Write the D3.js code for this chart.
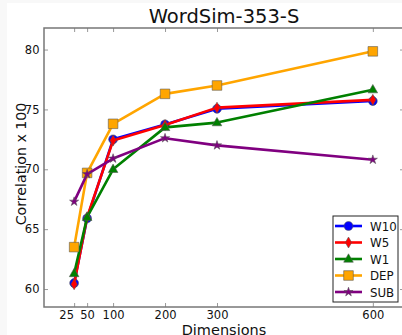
<!DOCTYPE html>
<html>
<head>
<meta charset="utf-8">
<script src="https://cdn.jsdelivr.net/npm/d3@7"></script>
<style>
  html, body { margin: 0; padding: 0; background: #f8f8f8; }
  svg { display: block; }
  text { font-family: "DejaVu Sans", sans-serif; fill: #111; }
</style>
</head>
<body>
<svg id="chart" width="402" height="335"></svg>
<script>
// Embedding dimensions on the x axis
const dims = [25, 50, 100, 200, 300, 600];
const xTicks = [25, 50, 100, 200, 300, 600];
const yTicks = [60, 65, 70, 75, 80];

// Correlation x 100 for each context type
const w10 = [60.5, 65.9, 72.5, 73.75, 75.05, 75.7];
const w5  = [60.4, 66.0, 72.4, 73.7, 75.15, 75.8];
const w1  = [61.3, 66.0, 70.0, 73.5, 73.9, 76.65];
const dep = [63.5, 69.7, 73.8, 76.3, 77.0, 79.85];
const sub = [67.3, 69.6, 70.9, 72.6, 72.0, 70.8];

const seriesNames = ["W10", "W5", "W1", "DEP", "SUB"];
const seriesValues = [w10, w5, w1, dep, sub];
const seriesColors = ["#0000ff", "#ff0000", "#008000", "#ffa500", "#800080"];
const seriesSymbols = ["circle", "diamond", "triangle", "square", "star"];

const svg = d3.select("#chart");
svg.append("rect").attr("x", 7).attr("y", 3).attr("width", 395).attr("height", 332).attr("fill", "#fff");

const m = { left: 44, top: 28, right: 404, bottom: 307 };
const x = d3.scaleLinear().domain([-33, 660]).range([m.left, m.right]);
const y = d3.scaleLinear().domain([58.5, 81.8]).range([m.bottom, m.top]);

// Inward ticks on all four sides
const tickLen = 4;
const g = svg.append("g");
const axB = d3.axisBottom(x).tickValues(xTicks).tickSizeInner(-tickLen).tickSizeOuter(0).tickPadding(4);
const axT = d3.axisTop(x).tickValues(xTicks).tickSizeInner(-tickLen).tickSizeOuter(0).tickFormat("");
const axL = d3.axisLeft(y).tickValues(yTicks).tickSizeInner(-tickLen).tickSizeOuter(0).tickPadding(4.5);
const axR = d3.axisRight(y).tickValues(yTicks).tickSizeInner(-tickLen).tickSizeOuter(0).tickFormat("");

function styleAxis(sel) {
  sel.select(".domain").remove();
  sel.selectAll(".tick line").attr("stroke", "#999").attr("stroke-width", 1);
  sel.selectAll(".tick text").attr("font-size", 11.5).attr("fill", "#111")
    .style("font-family", "DejaVu Sans, sans-serif");
}
const bottomAxis = g.append("g").attr("transform", `translate(0,${m.bottom})`).call(axB).call(styleAxis);
// the 25 label sits a little left of its tick so it clears the 50 label
bottomAxis.selectAll(".tick text").filter(d => d === 25).attr("dx", -8);
g.append("g").attr("transform", `translate(0,${m.top})`).call(axT).call(styleAxis);
g.append("g").attr("transform", `translate(${m.left},0)`).call(axL).call(styleAxis);
g.append("g").attr("transform", `translate(${m.right},0)`).call(axR).call(styleAxis);

// Frame
svg.append("rect").attr("x", m.left).attr("y", m.top)
  .attr("width", m.right - m.left).attr("height", m.bottom - m.top)
  .attr("fill", "none").attr("stroke", "#777").attr("stroke-width", 1.5);

function markerPath(sym) {
  switch (sym) {
    case "diamond": return "M0,-5.5L3.2,0L0,5.5L-3.2,0Z";
    case "triangle": return "M0,-5.2L4.8,3.2L-4.8,3.2Z";
    case "square": return "M-4.8,-4.8H4.8V4.8H-4.8Z";
    case "star": return d3.symbol(d3.symbolStar, 26)();
    default: return d3.symbol(d3.symbolCircle, 62)();
  }
}

const line = d3.line().x((d, i) => x(dims[i])).y(d => y(d));
const plot = svg.append("g");
seriesValues.forEach((vals, k) => {
  const sg = plot.append("g");
  sg.append("path").datum(vals).attr("d", line)
    .attr("fill", "none").attr("stroke", seriesColors[k]).attr("stroke-width", 2.6)
    .attr("stroke-linejoin", "round");
  sg.selectAll("path.mk").data(vals).join("path").attr("class", "mk")
    .attr("transform", (d, i) => `translate(${x(dims[i])},${y(d)})`)
    .attr("d", markerPath(seriesSymbols[k]))
    .attr("fill", seriesColors[k]).attr("stroke", "#555").attr("stroke-width", 0.8)
    .attr("stroke-opacity", 0.7);
});

// Title and axis labels
svg.append("text").attr("x", (m.left + m.right) / 2).attr("y", 23)
  .attr("text-anchor", "middle").attr("font-size", 19.5).text("WordSim-353-S");
svg.append("text").attr("x", (m.left + m.right) / 2).attr("y", 334.5)
  .attr("text-anchor", "middle").attr("font-size", 14.5).text("Dimensions");
svg.append("text").attr("transform", `translate(25.5,164) rotate(-90)`)
  .attr("text-anchor", "middle").attr("font-size", 14.2).text("Correlation x 100");

// Legend
const lg = svg.append("g");
lg.append("rect").attr("x", 333).attr("y", 216).attr("width", 65).attr("height", 86)
  .attr("fill", "#fff").attr("stroke", "#222").attr("stroke-width", 1);
seriesNames.forEach((name, k) => {
  const yy = 226 + k * 16.5;
  lg.append("line").attr("x1", 335).attr("x2", 362).attr("y1", yy).attr("y2", yy)
    .attr("stroke", seriesColors[k]).attr("stroke-width", 2.6);
  lg.append("path").attr("transform", `translate(348.5,${yy})`)
    .attr("d", markerPath(seriesSymbols[k]))
    .attr("fill", seriesColors[k]).attr("stroke", "#555").attr("stroke-width", 0.8).attr("stroke-opacity", 0.7);
  lg.append("text").attr("x", 370).attr("y", yy + 4.5).attr("font-size", 11.8).text(name);
});
</script>
</body>
</html>
